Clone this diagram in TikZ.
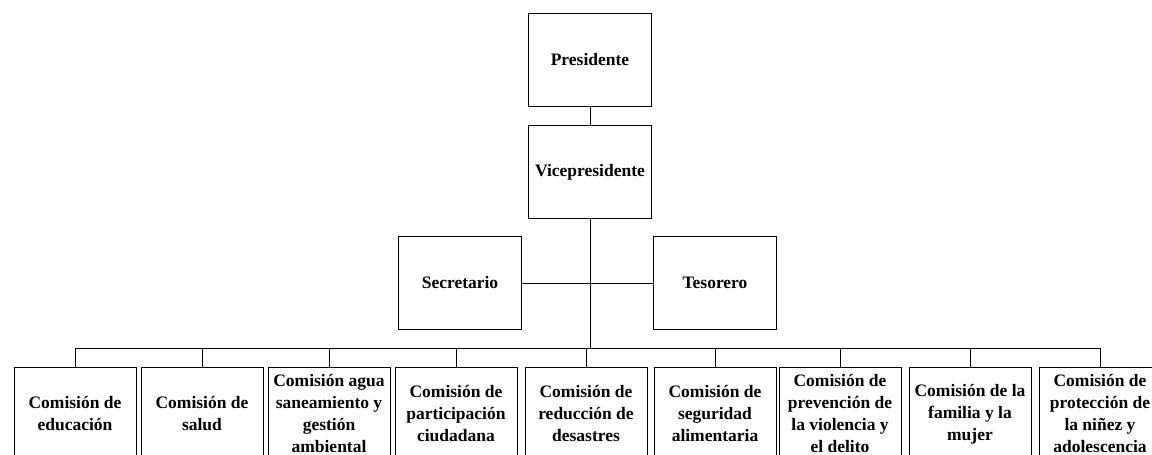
\documentclass[tikz,border=0pt]{standalone}
\usepackage{fontspec}
\setmainfont{Liberation Serif}
\begin{document}
\begin{tikzpicture}[x=1pt, y=-1pt, line width=1pt,
  cargo/.style = {shape=rectangle, draw, align=center,
    minimum width=123pt, minimum height=93pt,
    font=\bfseries\fontsize{17.5}{22}\selectfont},
  comision/.style = {cargo, minimum width=122pt, inner sep=1pt}]
  \useasboundingbox (0,0) rectangle (1152,455);
  \node[cargo] (pres) at (590,60) {Presidente};
  \node[cargo] (vice) at (590,172) {Vicepresidente};
  \node[cargo] (secr) at (460,283) {Secretario};
  \node[cargo] (teso) at (715,283) {Tesorero};
  \coordinate (bus) at (590,348);
  \node[comision] (c1) at (75,414) {Comisión de\\educación};
  \node[comision] (c2) at (202,414) {Comisión de\\salud};
  \node[comision] (c3) at (329,414) {Comisión agua\\saneamiento y\\gestión\\ambiental};
  \node[comision] (c4) at (456,414) {Comisión de\\participación\\ciudadana};
  \node[comision] (c5) at (586,414) {Comisión de\\reducción de\\desastres};
  \node[comision] (c6) at (715,414) {Comisión de\\seguridad\\alimentaria};
  \node[comision] (c7) at (840,414) {Comisión de\\prevención de\\la violencia y\\el delito};
  \node[comision] (c8) at (970,414) {Comisión de la\\familia y la\\mujer};
  \node[comision] (c9) at (1100,414) {Comisión de\\protección de\\la niñez y\\adolescencia};
  \draw (pres) -- (vice);
  \draw (vice) -- (bus);
  \draw (secr) -- (teso);
  \draw (c1.north |- bus) -- (c9.north |- bus);
  \foreach \c in {c1,c2,c3,c4,c5,c6,c7,c8,c9}
    \draw (\c.north |- bus) -- (\c.north);
\end{tikzpicture}
\end{document}
